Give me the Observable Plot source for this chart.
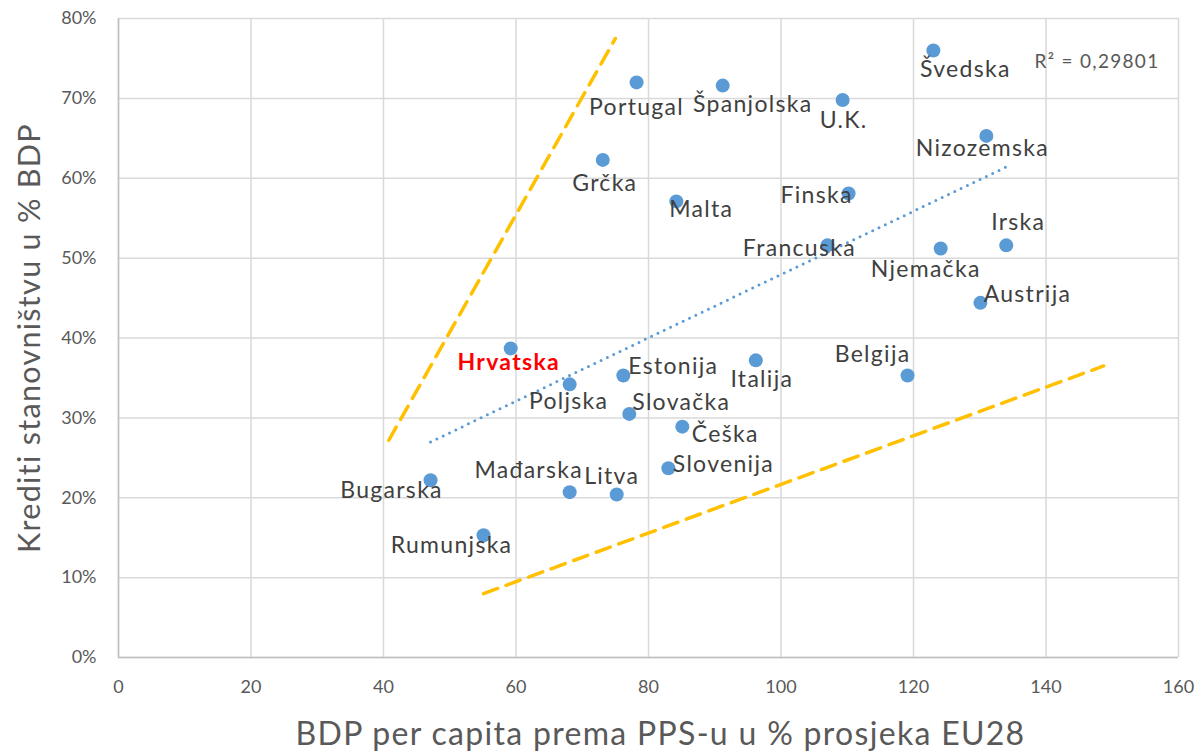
<!DOCTYPE html>
<html>
<head>
<meta charset="utf-8">
<script src="https://cdn.jsdelivr.net/npm/d3@7"></script>
<script src="https://cdn.jsdelivr.net/npm/@observablehq/plot@0.6"></script>
<style>
  html, body { margin: 0; padding: 0; background: #fff; }
  #chart svg { display: block; }
</style>
</head>
<body>
<div id="chart"></div>
<script>
// ---- Data ----
const countries = ["Švedska","Portugal","Španjolska","U.K.","Nizozemska","Grčka","Malta","Finska","Francuska","Njemačka","Irska","Austrija","Hrvatska","Poljska","Estonija","Italija","Belgija","Slovačka","Češka","Slovenija","Mađarska","Litva","Bugarska","Rumunjska"];
const gdpPps    = [123.0, 78.2, 91.2, 109.3, 131.0, 73.1, 84.2, 110.2, 107.0, 124.1, 134.0, 130.1, 59.2, 68.1, 76.2, 96.2, 119.1, 77.1, 85.1, 83.0, 68.1, 75.2, 47.1, 55.1];
const credit    = [0.760, 0.720, 0.716, 0.698, 0.653, 0.623, 0.571, 0.581, 0.516, 0.512, 0.516, 0.444, 0.387, 0.342, 0.353, 0.372, 0.353, 0.305, 0.289, 0.237, 0.207, 0.204, 0.222, 0.153];
const upperBandX = [40.8, 75.0];
const upperBandY = [0.272, 0.775];
const lowerBandX = [55.1, 148.7];
const lowerBandY = [0.080, 0.365];
const xTicks = [0, 20, 40, 60, 80, 100, 120, 140, 160];
const yTicks = [0, 0.1, 0.2, 0.3, 0.4, 0.5, 0.6, 0.7, 0.8];
const rSquaredText = "R² = 0,29801";
const xTitle = "BDP per capita prema PPS-u u % prosjeka EU28";
const yTitle = "Krediti stanovništvu u % BDP";
const highlight = "Hrvatska";

// ---- Label placement (layout only) ----
const labelPlacement = {
  "Švedska":   [32, 19],  "Portugal":  [0, 25],  "Španjolska": [30, 19], "U.K.": [1, 21],
  "Nizozemska":[-4, 13],  "Grčka":     [2, 24],  "Malta":      [25, 8],  "Finska": [-32, 2],
  "Francuska": [-28, 3],  "Njemačka":  [-15, 21],"Irska":      [12, -23],"Austrija": [47, -8],
  "Hrvatska":  [-2, 14],  "Poljska":   [-1, 17], "Estonija":   [50, -9], "Italija": [6, 19],
  "Belgija":   [-35, -21],"Slovačka":  [52, -11],"Češka":      [43, 8],  "Slovenija": [55, -4],
  "Mađarska":  [-41, -22],"Litva":     [-5, -18],"Bugarska":   [-39, 10],"Rumunjska": [-32, 10]
};

const points = countries.map((c, i) => ({name: c, x: gdpPps[i], y: credit[i]}));
const bands = [
  {g: "upper", x: upperBandX[0], y: upperBandY[0]}, {g: "upper", x: upperBandX[1], y: upperBandY[1]},
  {g: "lower", x: lowerBandX[0], y: lowerBandY[0]}, {g: "lower", x: lowerBandX[1], y: lowerBandY[1]}
];

const font = "Lato, 'Open Sans', 'DejaVu Sans', sans-serif";
const labelMarks = points.map(p => Plot.text([p], {
  x: "x", y: "y", text: "name",
  dx: labelPlacement[p.name][0], dy: labelPlacement[p.name][1],
  fill: p.name === highlight ? "#ff0000" : "#404040",
  fontWeight: p.name === highlight ? "bold" : "normal",
  fontSize: 23, textAnchor: "middle", lineAnchor: "middle"
}));

const chart = Plot.plot({
  width: 1204,
  height: 753,
  marginLeft: 118,
  marginRight: 26,
  marginTop: 18,
  marginBottom: 96,
  style: {fontFamily: font, background: "#fff", overflow: "visible"},
  x: {domain: [0, 160], ticks: xTicks},
  y: {domain: [0, 0.8], ticks: yTicks},
  marks: [
    Plot.gridX(xTicks, {stroke: "#d9d9d9", strokeOpacity: 1, strokeWidth: 1.5}),
    Plot.gridY(yTicks, {stroke: "#d9d9d9", strokeOpacity: 1, strokeWidth: 1.5}),
    Plot.ruleY([0], {stroke: "#bfbfbf", strokeWidth: 1.5}),
    Plot.ruleX([0], {stroke: "#bfbfbf", strokeWidth: 1.5}),
    Plot.axisX(xTicks, {tickSize: 0, tickPadding: 23, fontSize: 18, fill: "#595959", label: null}),
    Plot.axisY(yTicks, {tickSize: 0, tickPadding: 22, fontSize: 18, fill: "#595959", label: null, tickFormat: d3.format(".0%")}),
    Plot.line(bands, {x: "x", y: "y", z: "g", stroke: "#ffc000", strokeWidth: 3.5, strokeDasharray: "15 9"}),
    Plot.linearRegressionY(points, {x: "x", y: "y", ci: 0, stroke: "#5b9bd5", strokeWidth: 3, strokeDasharray: "0 7", strokeLinecap: "round"}),
    Plot.dot(points, {x: "x", y: "y", r: 7, fill: "#5b9bd5", stroke: "none"}),
    ...labelMarks,
    Plot.text([rSquaredText], {frameAnchor: "top-right", dx: -19, dy: 43, fontSize: 19, fill: "#595959", textAnchor: "end", lineAnchor: "middle"}),
    Plot.text([xTitle], {frameAnchor: "bottom", dx: 12, dy: 77, fontSize: 32, fill: "#595959", textAnchor: "middle", lineAnchor: "middle"}),
    Plot.text([yTitle], {frameAnchor: "left", dx: -88, rotate: -90, fontSize: 30.5, fill: "#595959", textAnchor: "middle", lineAnchor: "middle"})
  ]
});
// widen letter spacing of text marks to approximate the reference's wider face
d3.select(chart).selectAll("g[aria-label='text'] text").style("letter-spacing", "1.3px");
document.getElementById("chart").appendChild(chart);
</script>
</body>
</html>
